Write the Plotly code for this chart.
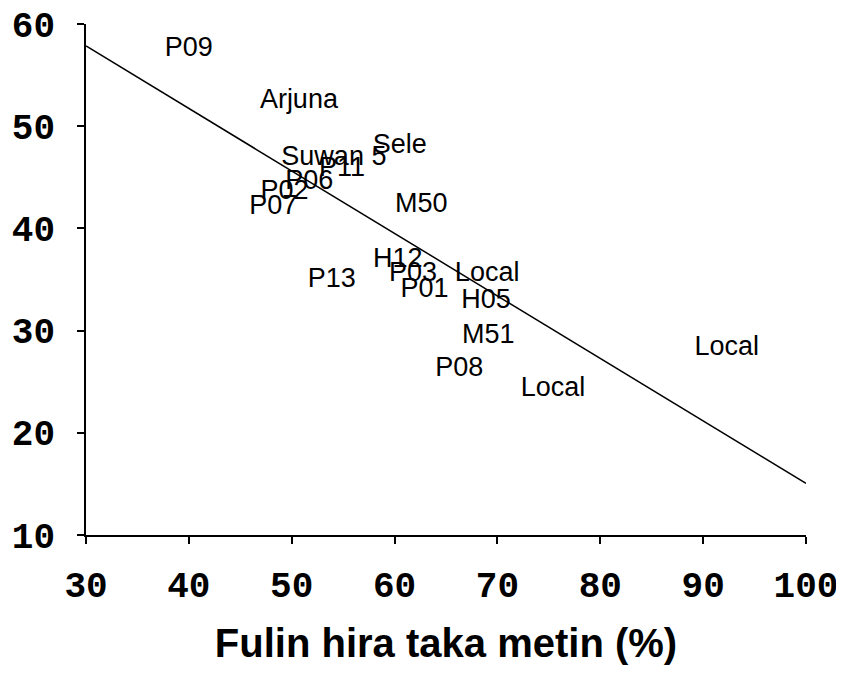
import plotly.graph_objects as go

# Data
labels = ["P09", "Arjuna", "Sele", "Suwan 5", "P11", "P06", "P02", "P07", "M50",
          "H12", "P13", "P03", "Local", "P01", "H05", "M51", "P08", "Local", "Local"]
x_vals = [40.0, 50.7, 60.5, 54.1, 54.9, 51.7, 49.3, 48.2, 62.6,
          60.3, 53.9, 61.8, 69.0, 62.9, 68.9, 69.1, 66.3, 75.4, 92.3]
y_vals = [57.5, 52.4, 48.0, 46.9, 45.8, 44.5, 43.5, 42.1, 42.3,
          36.9, 34.9, 35.5, 35.5, 33.9, 32.9, 29.4, 26.2, 24.3, 28.3]

trend_x = [30, 100]
trend_y = [57.85, 15.05]

x_ticks = [30, 40, 50, 60, 70, 80, 90, 100]
y_ticks = [10, 20, 30, 40, 50, 60]
x_title = "Fulin hira taka metin (%)"

fig = go.Figure()
fig.add_trace(go.Scatter(
    x=trend_x, y=trend_y, mode="lines",
    line=dict(color="black", width=1.5), showlegend=False, hoverinfo="skip"))
fig.add_trace(go.Scatter(
    x=x_vals, y=y_vals, mode="text", text=labels,
    textposition="middle center",
    textfont=dict(family="Liberation Sans, Arial, sans-serif", size=27, color="black"),
    showlegend=False, cliponaxis=False))

tick_font = dict(family="Liberation Mono, Courier New, monospace", size=36, color="black")

fig.update_layout(
    width=836, height=667,
    margin=dict(l=78, r=38, t=16, b=140),
    plot_bgcolor="white", paper_bgcolor="white",
    xaxis=dict(
        range=[30, 100], tickvals=x_ticks, ticktext=[f"<b>{v}</b>" for v in x_ticks],
        showgrid=False, zeroline=False, showline=True, linecolor="black", linewidth=1.5,
        ticks="outside", ticklen=7, tickwidth=1.5, tickcolor="black",
        tickfont=tick_font, ticklabelstandoff=10, automargin=False,
        ticklabeloverflow="allow",
        title=dict(text=f"<b>{x_title}</b>", standoff=22,
                   font=dict(family="Liberation Sans, Arial, sans-serif", size=40, color="black")),
    ),
    yaxis=dict(
        range=[10, 60], tickvals=y_ticks, ticktext=[f"<b>{v}</b>" for v in y_ticks],
        showgrid=False, zeroline=False, showline=True, linecolor="black", linewidth=1.5,
        ticks="outside", ticklen=7, tickwidth=1.5, tickcolor="black",
        tickfont=tick_font, ticklabelstandoff=15, automargin=False,
        ticklabeloverflow="allow",
    ),
)

fig.write_html("out.html")
